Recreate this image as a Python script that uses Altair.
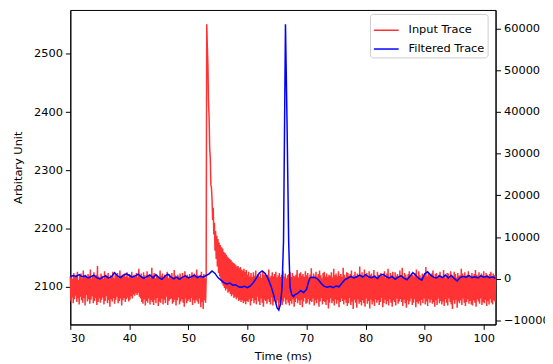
import altair as alt
import pandas as pd

# ---------------- data ----------------
# Input trace (left axis), sampled every 0.1 ms from 30.0 to 102.0 ms
red_start = 30.0
red_step = 0.1
red_values = [
    2118,2076,2121,2082,2114,2072,2124,2079,2117,2085,  # 30
    2120,2074,2126,2080,2112,2070,2119,2083,2123,2077,  # 31
    2115,2073,2128,2081,2118,2068,2121,2086,2116,2075,  # 32
    2122,2079,2119,2071,2130,2078,2114,2084,2120,2072,  # 33
    2125,2076,2117,2081,2121,2069,2136,2074,2118,2080,  # 34
    2116,2073,2123,2078,2119,2082,2114,2070,2127,2076,  # 35
    2121,2084,2118,2072,2124,2077,2113,2066,2120,2079,  # 36
    2117,2075,2126,2081,2115,2071,2122,2078,2119,2083,  # 37
    2124,2072,2116,2076,2128,2080,2118,2068,2121,2077,  # 38
    2119,2081,2123,2074,2117,2079,2125,2082,2116,2075,  # 39
    2122,2078,2119,2084,2126,2080,2115,2087,2121,2085,  # 40
    2118,2089,2124,2086,2116,2090,2131,2083,2119,2080,  # 41
    2123,2074,2117,2071,2125,2079,2120,2068,2114,2076,  # 42
    2127,2073,2119,2080,2122,2070,2116,2077,2133,2074,  # 43
    2120,2069,2124,2078,2115,2072,2121,2081,2118,2067,  # 44
    2116,2075,2128,2073,2119,2080,2123,2070,2117,2078,  # 45
    2121,2072,2118,2083,2126,2069,2115,2076,2122,2079,  # 46
    2119,2080,2124,2071,2117,2074,2129,2078,2120,2068,  # 47
    2115,2077,2121,2082,2118,2070,2123,2075,2116,2079,  # 48
    2124,2073,2119,2066,2127,2080,2117,2072,2121,2076,  # 49
    2118,2079,2122,2074,2115,2081,2125,2069,2119,2077,  # 50
    2123,2072,2117,2078,2130,2075,2120,2071,2116,2080,  # 51
    2121,2065,2126,2074,2118,2062,2122,2077,2115,2073,  # 52
    2112,2551,2512,2480,2418,2392,2338,2322,2276,2270,  # 53
    2250,2215,2236,2190,2210,2162,2196,2148,2188,2135,  # 54
    2182,2124,2176,2118,2172,2112,2168,2106,2166,2102,  # 55
    2160,2098,2158,2094,2155,2097,2152,2090,2150,2092,  # 56
    2148,2088,2146,2084,2143,2087,2141,2081,2140,2083,  # 57
    2138,2079,2135,2082,2136,2076,2132,2078,2134,2074,  # 58
    2130,2077,2128,2072,2131,2075,2126,2070,2129,2076,  # 59
    2121,2074,2126,2079,2118,2068,2124,2076,2117,2081,  # 60
    2125,2072,2119,2077,2128,2070,2116,2083,2122,2075,  # 61
    2118,2069,2123,2080,2115,2073,2127,2066,2120,2078,  # 62
    2124,2076,2117,2071,2121,2079,2130,2074,2116,2070,  # 63
    2119,2082,2125,2068,2118,2075,2122,2080,2126,2072,  # 64
    2116,2077,2120,2064,2124,2073,2117,2079,2121,2069,  # 65
    2127,2075,2118,2081,2123,2070,2115,2078,2120,2073,  # 66
    2122,2068,2126,2076,2117,2071,2124,2079,2119,2066,  # 67
    2118,2074,2121,2080,2129,2072,2116,2077,2123,2069,  # 68
    2125,2078,2119,2065,2122,2075,2117,2081,2127,2071,  # 69
    2120,2073,2124,2079,2116,2070,2121,2076,2132,2074,  # 70
    2117,2080,2123,2068,2119,2077,2126,2072,2118,2079,  # 71
    2122,2066,2128,2075,2120,2081,2115,2070,2124,2076,  # 72
    2126,2074,2118,2069,2123,2078,2117,2063,2121,2073,  # 73
    2119,2080,2125,2072,2116,2076,2131,2068,2120,2079,  # 74
    2123,2071,2118,2077,2127,2065,2119,2074,2122,2080,  # 75
    2117,2076,2133,2070,2121,2078,2116,2073,2125,2067,  # 76
    2124,2072,2119,2081,2122,2069,2128,2075,2118,2062,  # 77
    2120,2078,2126,2073,2117,2064,2123,2079,2119,2071,  # 78
    2135,2074,2121,2068,2125,2077,2118,2072,2130,2066,  # 79
    2119,2080,2124,2071,2116,2076,2127,2063,2121,2078,  # 80
    2123,2070,2118,2075,2129,2067,2120,2079,2117,2073,  # 81
    2126,2077,2121,2069,2118,2074,2124,2081,2119,2065,  # 82
    2122,2072,2127,2078,2115,2070,2123,2076,2131,2068,  # 83
    2118,2079,2124,2073,2120,2066,2126,2077,2117,2074,  # 84
    2125,2068,2119,2080,2122,2071,2117,2075,2128,2079,  # 85
    2120,2074,2133,2067,2118,2078,2124,2072,2121,2064,  # 86
    2116,2077,2122,2070,2127,2075,2119,2080,2123,2069,  # 87
    2121,2073,2118,2079,2124,2065,2130,2074,2117,2071,  # 88
    2127,2076,2120,2068,2116,2078,2123,2072,2119,2080,  # 89
    2122,2070,2134,2075,2118,2067,2125,2079,2120,2073,  # 90
    2119,2078,2123,2071,2128,2074,2117,2066,2122,2077,  # 91
    2124,2069,2118,2080,2121,2072,2126,2076,2119,2070,  # 92
    2117,2075,2129,2067,2120,2079,2115,2073,2124,2068,  # 93
    2123,2080,2119,2074,2127,2070,2121,2062,2118,2077,  # 94
    2126,2071,2122,2078,2116,2064,2124,2075,2119,2072,  # 95
    2120,2077,2131,2069,2123,2080,2118,2073,2125,2067,  # 96
    2118,2074,2121,2079,2127,2071,2120,2076,2116,2070,  # 97
    2124,2068,2119,2077,2122,2073,2129,2066,2121,2079,  # 98
    2119,2075,2125,2071,2117,2080,2123,2069,2120,2074,  # 99
    2127,2072,2118,2078,2124,2067,2121,2076,2119,2070,  # 100
    2122,2079,2126,2073,2117,2070,2123,2077,2120,2075,  # 101
    2118,                                               # 102.0
]

# Filtered trace (right axis)
blue_time = [
    30.0, 30.5, 31.0, 31.5, 32.0, 32.5, 33.0, 33.5, 34.0, 34.5,
    35.0, 35.5, 36.0, 36.5, 37.0, 37.5, 38.0, 38.5, 39.0, 39.5,
    40.0, 40.5, 41.0, 41.5, 42.0, 42.5, 43.0, 43.5, 44.0, 44.5,
    45.0, 45.5, 46.0, 46.5, 47.0, 47.5, 48.0, 48.5, 49.0, 49.5,
    50.0, 50.5, 51.0, 51.5, 52.0, 52.5, 53.0, 53.5, 54.0, 54.5,
    55.0, 55.5, 56.0, 56.5, 57.0, 57.5, 58.0, 58.5, 59.0, 59.5,
    60.0, 60.5, 61.0, 61.5, 62.0, 62.5, 63.0, 63.5, 64.0, 64.5,
    65.0, 65.3, 65.6, 65.85, 66.1, 66.43, 66.7, 66.97, 67.2, 67.5,
    67.8, 68.0, 68.5, 69.0, 69.5, 70.0, 70.3, 70.6, 71.0, 71.5,
    72.0, 72.5, 73.0, 73.5, 74.0, 74.5, 75.0, 75.5, 76.0, 76.5,
    77.0, 77.5, 78.0, 78.5, 79.0, 79.5, 80.0, 80.5, 81.0, 81.5,
    82.0, 82.5, 83.0, 83.5, 84.0, 84.5, 85.0, 85.5, 86.0, 86.5,
    87.0, 87.5, 88.0, 88.5, 89.0, 89.5, 90.0, 90.5, 91.0, 91.5,
    92.0, 92.5, 93.0, 93.5, 94.0, 94.5, 95.0, 95.5, 96.0, 96.5,
    97.0, 97.5, 98.0, 98.5, 99.0, 99.5, 100.0, 100.5, 101.0, 101.5,
    102.0,
]
blue_values = [
    500, 800, 600, 1000, 500, 700, 200, 500, 900, 300,
    0, 400, 700, 200, 600, 1500, 700, 300, 900, 1200,
    800, 400, 700, 1100, 500, 100, 600, 900, 200, 1000,
    300, -100, 600, 1100, 500, 0, 400, -100, 400, 700,
    200, 500, 900, 300, 600, 400, 800, 1200, 1900, 1300,
    300, -300, -900, -1200, -1000, -1500, -1400, -1900, -2000, -1800,
    -2100, -1700, -900, 200, 1400, 1900, 1300, 0, -1800, -4200,
    -6900, -7500, -6000, -2000, 9000, 61000, 37000, 9000, -2000, -3800,
    -4300, -3800, -3500, -2800, -3300, -2500, -900, 300, 400, 300,
    -200, -1100, -1800, -2000, -1800, -2100, -1700, -1900, -1000, -200,
    200, 600, 200, 500, 900, 400, 1000, 500, 300, 600,
    100, 900, 1100, 500, 200, 600, -100, 400, 700, 200,
    -200, 600, 1500, 800, 100, -300, 1200, 1700, 900, 400,
    200, 700, 300, 900, 200, 800, 100, -500, 300, 600,
    400, 800, 300, 500, 200, 700, 400, 600, 300, 500,
    100,
]

series_names = ["Input Trace", "Filtered Trace"]
series_colors = ["#ff3333", "#0000ff"]
x_ticks = [30, 40, 50, 60, 70, 80, 90, 100]
left_ticks = [2100, 2200, 2300, 2400, 2500]
right_ticks = [-10000, 0, 10000, 20000, 30000, 40000, 50000, 60000]

# ---------------- tables ----------------
red_df = pd.DataFrame({
    "t": [round(red_start + i * red_step, 2) for i in range(len(red_values))],
    "v": red_values,
    "series": series_names[0],
})
blue_df = pd.DataFrame({"t": blue_time, "v": blue_values, "series": series_names[1]})

FONT = "DejaVu Sans"
FS = 11.5

xenc = alt.X(
    "t:Q",
    scale=alt.Scale(domain=[30, 102], nice=False, zero=False),
    axis=alt.Axis(values=x_ticks, title="Time (ms)", grid=False, format="d"),
)
color = alt.Color(
    "series:N",
    scale=alt.Scale(domain=series_names, range=series_colors),
    legend=alt.Legend(
        title=None, orient="none", legendX=303, legendY=4, symbolType="stroke",
        symbolSize=625, symbolStrokeWidth=1.5, labelFontSize=FS, labelFont=FONT,
        labelColor="#000", padding=3, rowPadding=0, strokeColor="#cccccc",
        cornerRadius=3, fillColor="rgba(255,255,255,0.8)", labelOffset=9,
    ),
)

red = alt.Chart(red_df).mark_line(strokeWidth=1.5, interpolate="linear").encode(
    x=xenc,
    y=alt.Y(
        "v:Q",
        scale=alt.Scale(domain=[2035.5, 2575.5], nice=False, zero=False),
        axis=alt.Axis(values=left_ticks, title="Arbitary Unit", orient="left",
                      grid=False, format="d"),
    ),
    color=color,
    order=alt.Order("t:Q"),
)

blue = alt.Chart(blue_df).mark_line(strokeWidth=1.5).encode(
    x=xenc,
    y=alt.Y(
        "v:Q",
        scale=alt.Scale(domain=[-10925, 64425], nice=False, zero=False),
        axis=alt.Axis(values=right_ticks, title=None, orient="right",
                      grid=False, format="d"),
    ),
    color=color,
    order=alt.Order("t:Q"),
)

chart = (
    alt.layer(red, blue)
    .resolve_scale(y="independent")
    .properties(
        width=430, height=318,
        autosize=alt.AutoSizeParams(type="none"),
        padding={"left": 63, "top": 0, "right": 50, "bottom": 38},
        background="white",
    )
    .configure_view(stroke="#000", strokeWidth=1)
    .configure_axis(
        labelFont=FONT, titleFont=FONT, labelFontSize=FS, titleFontSize=FS,
        titleFontWeight="normal", labelColor="#000", titleColor="#000",
        tickColor="#000", domainColor="#000", tickSize=5, tickWidth=1,
        labelPadding=3, domainWidth=1,
    )
    .configure_axisX(titlePadding=7)
    .configure_axisLeft(titlePadding=10)
)

chart.save("out.html", embed_options={"renderer": "svg", "actions": False})
